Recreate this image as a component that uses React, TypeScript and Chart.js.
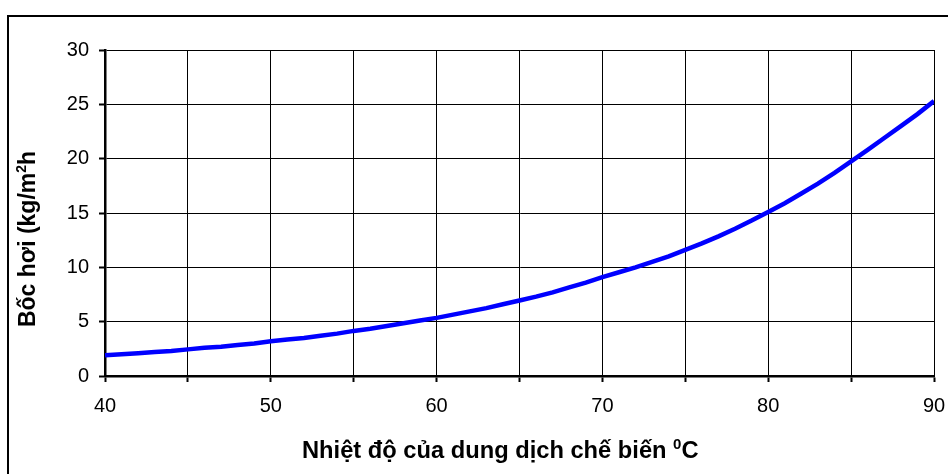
import { useEffect, useRef } from 'react';
import { Chart, registerables } from 'chart.js';

Chart.register(...registerables);

// Nhiệt độ (°C) và lượng bốc hơi (kg/m²h) đọc từ đồ thị
const nhietDo = [
  40, 41, 42, 43, 44, 45, 46, 47, 48, 49,
  50, 51, 52, 53, 54, 55, 56, 57, 58, 59,
  60, 61, 62, 63, 64, 65, 66, 67, 68, 69,
  70, 71, 72, 73, 74, 75, 76, 77, 78, 79,
  80, 81, 82, 83, 84, 85, 86, 87, 88, 89, 90,
];
const bocHoi = [
  1.9, 2.0, 2.1, 2.2, 2.3, 2.45, 2.6, 2.7, 2.85, 3.0,
  3.2, 3.35, 3.5, 3.7, 3.9, 4.15, 4.35, 4.6, 4.85, 5.1,
  5.35, 5.65, 5.95, 6.25, 6.6, 6.95, 7.3, 7.7, 8.15, 8.6,
  9.1, 9.55, 10.0, 10.5, 11.0, 11.6, 12.2, 12.85, 13.55, 14.3,
  15.1, 15.9, 16.8, 17.7, 18.7, 19.75, 20.8, 21.9, 23.0, 24.1, 25.3,
];

const tieuDeX = ['Nhiệt độ của dung dịch chế biến ', '0', 'C'];
const tieuDeY = ['Bốc hơi (kg/m', '2', 'h'];

const FONT = '"Liberation Sans", Arial, sans-serif';

// vẽ tiêu đề trục có chỉ số trên (kiểu Excel)
function veChuoi(ctx: CanvasRenderingContext2D, parts: string[], x: number, y: number, center: boolean, size: number) {
  const big = `bold ${size}px ${FONT}`;
  const small = `bold ${Math.round(size * 0.62)}px ${FONT}`;
  const widths = parts.map((p, i) => {
    ctx.font = i === 1 ? small : big;
    return ctx.measureText(p).width;
  });
  let cx = center ? x - widths.reduce((a, b) => a + b, 0) / 2 : x;
  parts.forEach((p, i) => {
    ctx.font = i === 1 ? small : big;
    ctx.fillText(p, cx, i === 1 ? y - 9 : y);
    cx += widths[i];
  });
}

const tieuDePlugin = {
  id: 'tieuDe',
  afterDraw(chart: Chart) {
    const ctx = chart.ctx;
    ctx.save();
    ctx.fillStyle = '#000';
    ctx.textBaseline = 'alphabetic';
    ctx.textAlign = 'left';
    veChuoi(ctx, tieuDeX, 294, 442, false, 23.7);
    ctx.translate(27, 223);
    ctx.rotate(-Math.PI / 2);
    veChuoi(ctx, tieuDeY, 0, 0, true, 23);
    ctx.restore();
  },
};

export default function App() {
  const canvasRef = useRef<HTMLCanvasElement | null>(null);
  const chartRef = useRef<Chart | null>(null);

  useEffect(() => {
    if (!canvasRef.current) return;
    if (chartRef.current) chartRef.current.destroy();

    const tickFont = { family: FONT, size: 20 };
    const grid = {
      color: '#000',
      lineWidth: 1,
      tickLength: 6,
      tickWidth: 2,
      tickColor: '#000',
    };

    chartRef.current = new Chart(canvasRef.current, {
      type: 'line',
      data: {
        datasets: [{
          data: nhietDo.map((t, i) => ({ x: t, y: bocHoi[i] })),
          borderColor: '#0000FF',
          borderWidth: 4.5,
          pointRadius: 0,
          tension: 0,
          fill: false,
        }],
      },
      options: {
        animation: false,
        responsive: true,
        maintainAspectRatio: false,
        layout: { autoPadding: false, padding: { left: 0, top: 34, right: 14, bottom: 0 } },
        plugins: { legend: { display: false }, tooltip: { enabled: false } },
        scales: {
          x: {
            type: 'linear',
            min: 40,
            max: 90,
            afterFit: (s: any) => { s.height = 98; s.paddingLeft = 0; s.paddingRight = 0; },
            ticks: {
              stepSize: 5,
              color: '#000',
              font: tickFont,
              padding: 12,
              maxRotation: 0,
              callback: (v: any) => (Number(v) % 10 === 0 ? String(v) : ''),
            },
            grid,
            border: { color: '#000', width: 2.5 },
          },
          y: {
            min: 0,
            max: 30,
            afterFit: (s: any) => { s.width = 97; s.paddingTop = 0; s.paddingBottom = 0; },
            ticks: { stepSize: 5, color: '#000', font: tickFont, padding: 10 },
            grid,
            border: { color: '#000', width: 2.5 },
          },
        },
      },
      plugins: [tieuDePlugin],
    });

    return () => {
      if (chartRef.current) {
        chartRef.current.destroy();
        chartRef.current = null;
      }
    };
  }, []);

  return (
    <div style={{ position: 'fixed', left: 0, top: 0, width: 948, height: 474, overflow: 'hidden', background: '#fff' }}>
      <div style={{ position: 'absolute', left: 7, top: 15, width: 1000, height: 520, borderLeft: '2px solid #000', borderTop: '2px solid #000' }} />
      <div style={{ position: 'absolute', left: 8, top: 16, width: 940, height: 458 }}>
        <canvas ref={canvasRef}></canvas>
      </div>
    </div>
  );
}
